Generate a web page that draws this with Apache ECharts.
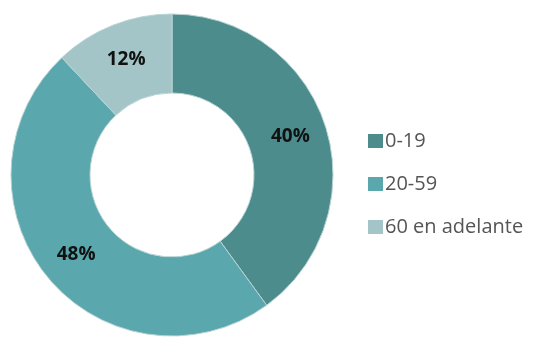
<!DOCTYPE html>
<html>
<head>
<meta charset="utf-8">
<script src="https://cdn.jsdelivr.net/npm/echarts@6/dist/echarts.min.js"></script>
<style>
  html, body { margin: 0; padding: 0; background: #fff; }
  #chart { width: 544px; height: 343px; }
</style>
</head>
<body>
<div id="chart"></div>
<script>
const categories = ['0-19', '20-59', '60 en adelante'];
const values = [40, 48, 12];
const colors = ['#4d8c8c', '#5aa7ad', '#a4c5c7'];

const chartDom = document.getElementById('chart');
const myChart = echarts.init(chartDom);

const data = categories.map((name, i) => ({
    name: name,
    value: values[i],
    itemStyle: {color: colors[i]}
}));

const option = {
    animation: false,
    legend: {
        orient: 'vertical',
        left: 363,
        top: 126,
        itemWidth: 15,
        itemHeight: 14,
        itemGap: 23,
        icon: 'rect',
        itemStyle: {borderWidth: 0},
        data: categories,
        textStyle: {
            fontFamily: 'Open Sans',
            fontSize: 20,
            color: '#555555',
            padding: [0, 0, 0, -3]
        }
    },
    series: [{
        type: 'pie',
        center: [172, 175],
        radius: [82, 161],
        startAngle: 90,
        clockwise: true,
        itemStyle: {
            borderColor: '#b9d3d4',
            borderWidth: 1
        },
        label: {
            show: true,
            position: 'inside',
            formatter: '{c}%',
            fontFamily: 'Open Sans',
            fontWeight: 'bold',
            fontSize: 19,
            color: '#111111'
        },
        labelLine: {show: false},
        data: data
    }]
};

myChart.setOption(option);
</script>
</body>
</html>
